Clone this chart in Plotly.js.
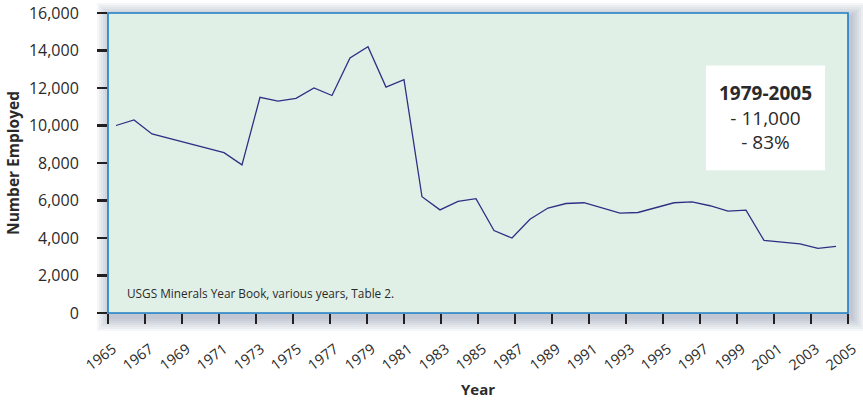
<!DOCTYPE html>
<html>
<head>
<meta charset="utf-8">
<script src="https://cdn.plot.ly/plotly-3.0.1.min.js"></script>
<style>
  html, body { margin: 0; padding: 0; background: #ffffff; }
  #chart { width: 863px; height: 400px; }
</style>
</head>
<body>
<div id="chart"></div>
<script>
// Years with a visible vertex in the line
const years = [1965, 1966, 1967, 1971, 1972, 1973, 1974, 1975, 1976, 1977, 1978, 1979, 1980, 1981,
  1982, 1983, 1984, 1985, 1986, 1987, 1988, 1989, 1990, 1991, 1993, 1994, 1996, 1997, 1998, 1999,
  2000, 2001, 2003, 2004, 2005];
// Number employed
const employed = [10000, 10300, 9550, 8550, 7900, 11500, 11300, 11450, 12000, 11600, 13600, 14200, 12050, 12450,
  6200, 5500, 5950, 6100, 4400, 4000, 5000, 5600, 5840, 5880, 5330, 5360, 5880, 5930, 5720, 5430,
  5490, 3870, 3690, 3450, 3550];

const tickYears = [1965, 1967, 1969, 1971, 1973, 1975, 1977, 1979, 1981, 1983, 1985, 1987, 1989,
  1991, 1993, 1995, 1997, 1999, 2001, 2003, 2005];
const yTicks = [0, 2000, 4000, 6000, 8000, 10000, 12000, 14000, 16000];

const boxTitle = '1979-2005';
const boxLines = ['- 11,000', '- 83%'];
const sourceNote = 'USGS Minerals Year Book, various years, Table 2.';

const FONT = '"Open Sans", "Noto Sans", sans-serif';
const TXT = '#2b2a2a';

// soft drop shadow around the plot frame (px converted to paper units)
const PW = 740, PH = 300;
const shadow = [];
for (let i = 1; i <= 7; i++) {
  const r = i * 2;
  shadow.push({
    type: 'rect', xref: 'paper', yref: 'paper', layer: 'below',
    x0: (3 - r) / PW, x1: 1 + (3 + r) / PW,
    y0: (-4 - r) / PH, y1: 1 + (-4 + r) / PH,
    fillcolor: 'rgba(70,90,130,0.055)', line: {width: 0}
  });
}

const shapes = shadow.concat([
  { type: 'rect', xref: 'paper', yref: 'paper', layer: 'below',
    x0: 0, x1: 1, y0: 0, y1: 1,
    fillcolor: '#e1f0e6', line: {color: '#1b7dc6', width: 1.6} },
  { type: 'rect', xref: 'paper', yref: 'paper', layer: 'above',
    x0: 0.808, x1: 0.969, y0: 0.476, y1: 0.825,
    fillcolor: '#ffffff', line: {width: 0} }
]);

const data = [
  {
    type: 'scatter', mode: 'lines',
    x: years, y: employed,
    xaxis: 'x', yaxis: 'y',
    line: {color: '#2e3085', width: 1.3},
    hoverinfo: 'x+y'
  },
  // empty trace that only anchors the year tick axis
  {
    type: 'scatter', mode: 'lines', x: [], y: [],
    xaxis: 'x2', yaxis: 'y', hoverinfo: 'skip', showlegend: false
  }
];

const layout = {
  width: 863, height: 400,
  margin: {l: 108, r: 15, t: 13, b: 87},
  paper_bgcolor: '#ffffff',
  plot_bgcolor: 'rgba(0,0,0,0)',
  showlegend: false,
  font: {family: FONT, color: TXT},
  xaxis: {
    range: [1964.556, 2005.667],
    showticklabels: false, ticks: '', showgrid: false, zeroline: false, showline: false,
    fixedrange: true
  },
  xaxis2: {
    overlaying: 'x', anchor: 'y', side: 'bottom',
    range: [1965, 2005],
    tickmode: 'array', tickvals: tickYears, ticktext: tickYears.map(String),
    ticks: 'outside', ticklen: 10, tickwidth: 2.5, tickcolor: '#231f20',
    tickangle: -37,
    ticklabelshift: 5, ticklabelstandoff: 11, ticklabeloverflow: 'allow',
    tickfont: {family: FONT, size: 14.5, color: TXT},
    showgrid: false, zeroline: false, showline: false,
    title: {text: '<b>Year</b>', font: {family: FONT, size: 15, color: TXT}, standoff: 11},
    fixedrange: true
  },
  yaxis: {
    range: [0, 16000],
    tickmode: 'array', tickvals: yTicks, ticktext: yTicks.map(v => v.toLocaleString('en-US')),
    ticks: 'outside', ticklen: 10, tickwidth: 2.5, tickcolor: '#231f20',
    ticklabelstandoff: 15,
    tickfont: {family: FONT, size: 16, color: TXT},
    showgrid: false, zeroline: false, showline: false,
    title: {text: '<b>Number Employed</b>', font: {family: FONT, size: 15.5, color: TXT}, standoff: 5},
    fixedrange: true
  },
  shapes: shapes,
  annotations: [
    { xref: 'paper', yref: 'paper', x: 0.889, y: 0.651, xanchor: 'center', yanchor: 'middle',
      text: '<b>' + boxTitle + '</b><br>' + boxLines.join('<br>'), showarrow: false, align: 'center',
      font: {family: FONT, size: 19, color: TXT} },
    { xref: 'paper', yref: 'paper', x: 0.023, y: 0.067, xanchor: 'left', yanchor: 'middle',
      text: sourceNote, showarrow: false,
      font: {family: FONT, size: 11.8, color: TXT} }
  ]
};

Plotly.newPlot('chart', data, layout, {displayModeBar: false, staticPlot: true});
</script>
</body>
</html>
